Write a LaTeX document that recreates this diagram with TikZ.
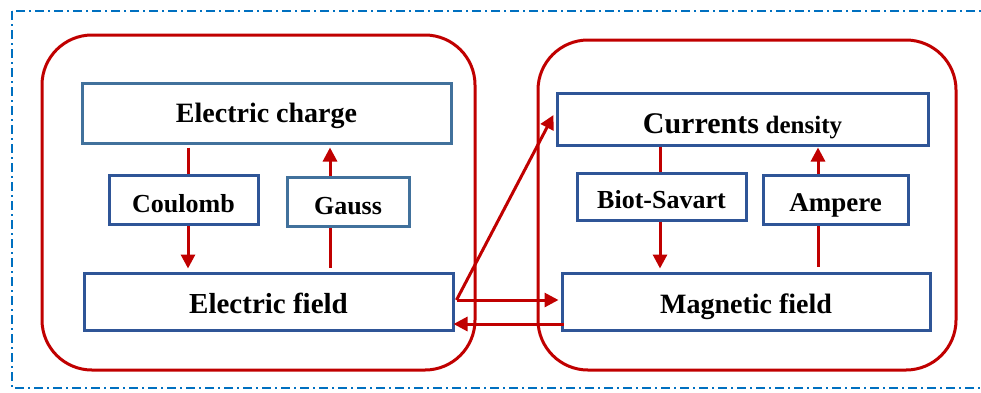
\documentclass[tikz,border=0pt]{standalone}
\usepackage{fontspec}
\setmainfont{Liberation Serif}
\usetikzlibrary{arrows.meta,calc}
\definecolor{dred}{HTML}{C00000}
\definecolor{boxblue}{HTML}{2F5597}
\definecolor{lboxblue}{HTML}{41719C}
\definecolor{frameblue}{HTML}{0070C0}
\newcommand{\lowtext}[2]{\smash{\raisebox{-#1}{#2}}}
\tikzset{
  box/.style={draw=boxblue, line width=3pt, fill=white, inner sep=0pt, font=\bfseries\fontsize{27}{30}\selectfont},
  group/.style={draw=dred, line width=3pt, rounded corners=50pt},
  link/.style={draw=dred, line width=3pt},
  arr/.style={link, -{Triangle[length=14pt,width=14pt]}},
}
\begin{document}
\begin{tikzpicture}[x=1pt,y=-1pt]
\useasboundingbox (0,0) rectangle (981,392);
\draw[frameblue, line width=1.4pt, dash pattern=on 9pt off 4pt on 2pt off 4pt] (12,11) rectangle (1000,388);
\draw[group] (42,35) rectangle (475,370);
\draw[group] (538,40) rectangle (956,370);

\node[box, draw=lboxblue, minimum width=369pt, minimum height=60pt, font=\bfseries\fontsize{28}{30}\selectfont] (ec) at (266.5,113) {\lowtext{9pt}{Electric charge}};
\node[box, minimum width=149pt, minimum height=49pt, font=\bfseries\fontsize{26}{30}\selectfont] (coul) at (183.5,199.5) {\lowtext{13pt}{Coulomb}};
\node[box, draw=lboxblue, minimum width=122pt, minimum height=49pt, font=\bfseries\fontsize{26}{30}\selectfont] (gauss) at (348,201.5) {\lowtext{12.5pt}{Gauss}};
\node[box, minimum width=369pt, minimum height=57pt, font=\bfseries\fontsize{29}{30}\selectfont] (ef) at (268.5,301.5) {\lowtext{11.5pt}{Electric field}};

\node[box, minimum width=371pt, minimum height=52pt] (cd) at (742.5,119) {\lowtext{14pt}{{\fontsize{30}{30}\selectfont Currents} {\fontsize{25}{30}\selectfont density}}};
\node[box, minimum width=169pt, minimum height=47pt, font=\bfseries\fontsize{26}{30}\selectfont] (bs) at (661.5,196.5) {\lowtext{11.5pt}{Biot-Savart}};
\node[box, minimum width=145pt, minimum height=49pt, font=\bfseries\fontsize{27}{30}\selectfont] (amp) at (835.5,199.5) {\lowtext{11.5pt}{Ampere}};
\node[box, minimum width=368pt, minimum height=57pt, font=\bfseries\fontsize{28}{30}\selectfont] (mf) at (746,301.5) {\lowtext{11.5pt}{Magnetic field}};

\coordinate (xc) at (188,0);
\coordinate (xg) at (330,0);
\coordinate (xb) at (660,0);
\coordinate (xa) at (818,0);

% Coulomb
\draw[link] ([yshift=-3pt]ec.south -| xc) -- (coul.north -| xc);
\draw[arr] (coul.south -| xc) -- ([yshift=3pt]ef.north -| xc);
% Gauss
\draw[link] ([yshift=4pt]ef.north -| xg) -- (gauss.south -| xg);
\draw[arr] (gauss.north -| xg) -- ([yshift=-3pt]ec.south -| xg);
% Biot-Savart
\draw[link] (cd.south -| xb) -- (bs.north -| xb);
\draw[arr] (bs.south -| xb) -- ([yshift=3pt]mf.north -| xb);
% Ampere
\draw[link] ([yshift=5pt]mf.north -| xa) -- (amp.south -| xa);
\draw[arr] (amp.north -| xa) -- ([yshift=-1pt]cd.south -| xa);

% cross links
\coordinate (efo) at ([xshift=2pt,yshift=1.5pt]ef.east);
\draw[arr] (efo) -- ([xshift=-2pt,yshift=4pt]cd.west);
\draw[arr] (efo) -- ([xshift=-2pt,yshift=1.5pt]mf.west);
\draw[arr] ([xshift=3pt,yshift=-22.5pt]mf.west) -- ([xshift=-1pt,yshift=-22.5pt]ef.east);
\end{tikzpicture}
\end{document}
